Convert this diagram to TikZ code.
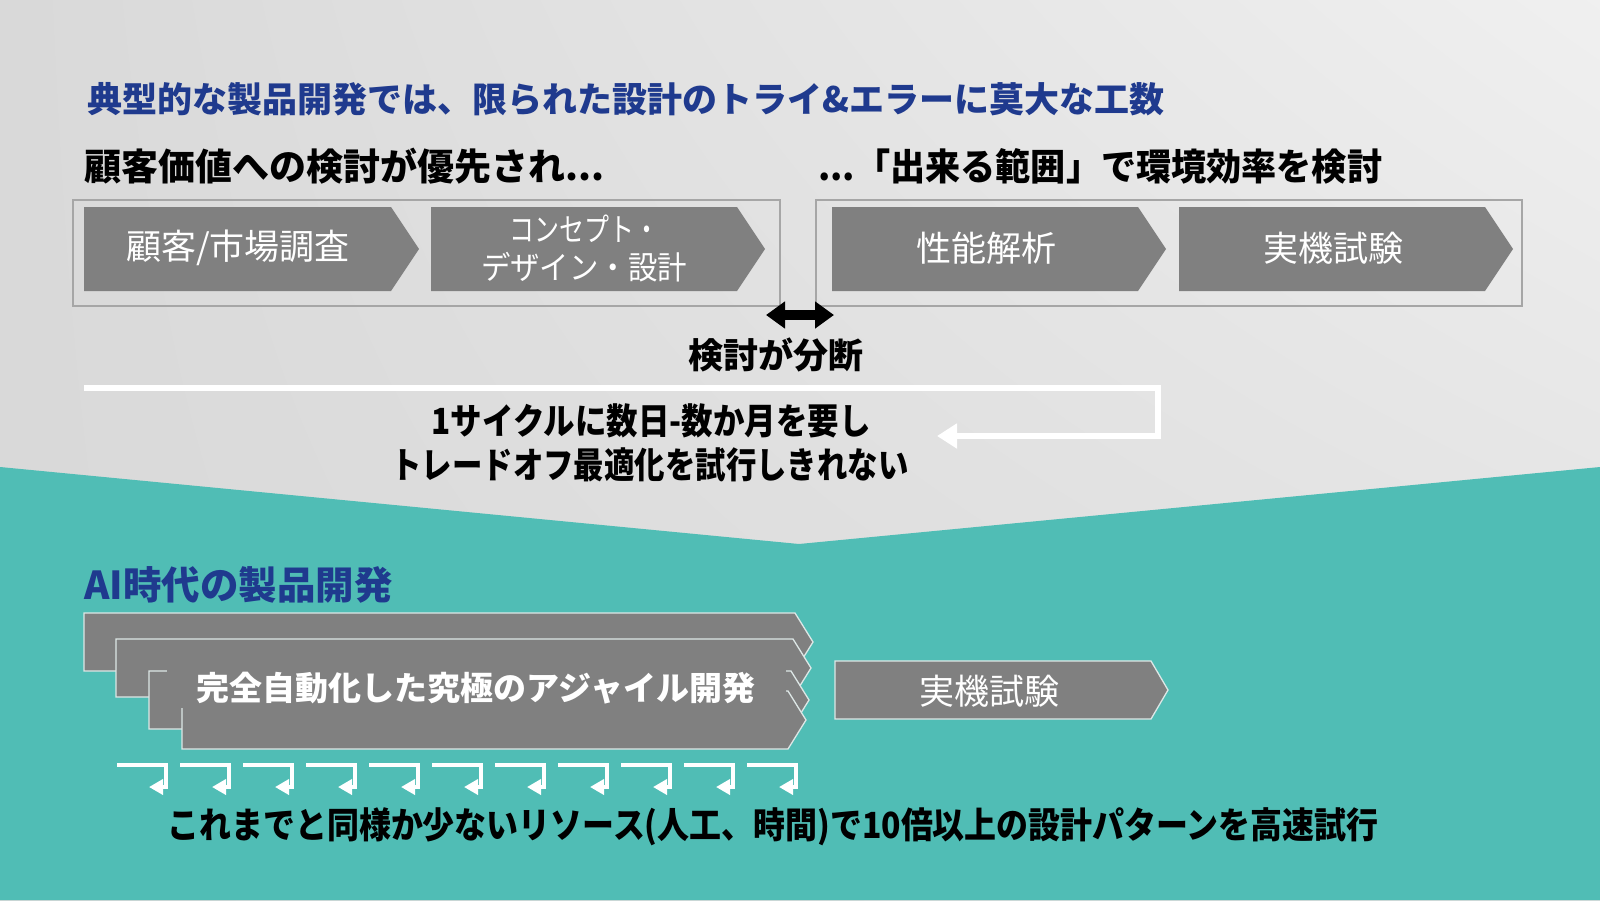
\documentclass[tikz,border=0pt]{standalone}
\usepackage{fontspec}
\setmainfont{Noto Sans CJK JP}
\usetikzlibrary{arrows.meta,shadings}

\definecolor{bgteal}{HTML}{50BDB5}
\definecolor{titleblue}{HTML}{1F3A8E}
\definecolor{chevgray}{HTML}{808080}
\definecolor{boxline}{HTML}{A6A6A6}
\definecolor{edgelight}{HTML}{DDE7E6}
\newcommand{\setfs}[1]{\fontsize{#1}{#1}\selectfont}

\begin{document}
\begin{tikzpicture}[x=1pt,y=-1pt,
    heading/.style={anchor=west,inner sep=0pt,font=\bfseries\setfs{37}},
    chevtext/.style={text=white,inner sep=0pt,font=\setfs{35},align=center},
    stackfill/.style={fill=chevgray,draw=edgelight,line width=1.3pt},
    bodytext/.style={inner sep=0pt,font=\bfseries\setfs{36}}]

    \useasboundingbox (0,0) rectangle (1600,900);

    % background
    \shade[upper left=gray!30,upper right=gray!12,lower left=gray!30,lower right=gray!26]
    (0,0) rectangle (1600,900);
    \fill[bgteal] (0,467) -- (799,544) -- (1600,467) -- (1600,900) -- (0,900) -- cycle;

    % headings
    \node (title) [heading,text=titleblue,font=\bfseries\setfs{35}] at (87,99)
    {典型的な製品開発では、限られた設計のトライ\&エラーに莫大な工数};
    \node (headleft) [heading] at (84,166) {顧客価値への検討が優先され...};
    \node (headright) [heading] at (818,166) {\resizebox{564pt}{\height}{...「出来る範囲」で環境効率を検討}};

    % frames round the two halves
    \node (leftbox) [draw=boxline,line width=2pt,minimum width=707pt,minimum height=106pt] at (426.5,253) {};
    \node (rightbox) [draw=boxline,line width=2pt,minimum width=706pt,minimum height=106pt] at (1169,253) {};

    % current process chevrons
    \fill[chevgray] (84,207) -- (391,207) -- (419,249) -- (391,291) -- (84,291) -- cycle;
    \fill[chevgray] (431,207) -- (737,207) -- (765,249) -- (737,291) -- (431,291) -- cycle;
    \fill[chevgray] (832,207) -- (1138,207) -- (1166,249) -- (1138,291) -- (832,291) -- cycle;
    \fill[chevgray] (1179,207) -- (1485,207) -- (1513,249) -- (1485,291) -- (1179,291) -- cycle;

    \node (survey) [chevtext] at (238,248) {顧客/市場調査};
    \node (concept) [chevtext,font=\setfs{32},text depth=0pt] at (584,247)
    {\resizebox{150pt}{\height}{コンセプト・}\\[6pt]\resizebox{206pt}{\height}{デザイン・設計}};
    \node (analysis) [chevtext] at (986,248) {性能解析};
    \node (testing) [chevtext] at (1333,248) {実機試験};

    % split between the halves
    \draw[black,line width=10pt,{Triangle[length=19pt,width=26pt]}-{Triangle[length=19pt,width=26pt]}]
    ([xshift=-15pt,yshift=-8pt]leftbox.south east) -- ([xshift=19pt,yshift=-8pt]rightbox.south west);
    \node (split) [bodytext,font=\bfseries\setfs{35}] at (776,355) {検討が分断};

    % one slow cycle
    \coordinate (loopstart) at (84,388);
    \coordinate (loopend) at (937,436);
    \draw[white,line width=6pt,-{Triangle[length=20pt,width=24pt]}]
    (loopstart) -- ++(1074,0) |- (loopend);

    \node (cycle1) [bodytext] at (651,421) {\resizebox{439pt}{\height}{1サイクルに数日-数か月を要し}};
    \node (cycle2) [bodytext] at (650,465) {\resizebox{517pt}{\height}{トレードオフ最適化を試行しきれない}};

    % AI era
    \node (aihead) [heading,text=titleblue,font=\bfseries\setfs{38.5}] at (84,585) {AI時代の製品開発};

    \draw[stackfill] (84,613) -- (795,613) -- (813,642) -- (795,671) -- (84,671) -- cycle;
    \draw[stackfill] (116,639) -- (793,639) -- (811,668) -- (793,697) -- (116,697) -- cycle;
    \draw[stackfill] (149,671) -- (791,671) -- (809,700) -- (791,729) -- (149,729) -- cycle;
    \draw[stackfill] (182,691) -- (788,691) -- (806,720) -- (788,749) -- (182,749) -- cycle;

    \node (agile) [fill=chevgray,inner sep=0pt,minimum width=619pt,minimum height=40pt,
    text=white,font=\bfseries\setfs{33}] at (476,688) {完全自動化した究極のアジャイル開発};

    \draw[stackfill] (835,661) -- (1151,661) -- (1168,690) -- (1151,719) -- (835,719) -- cycle;
    \node (testing2) [chevtext] at (989,691) {実機試験};

    % many fast cycles
    \foreach \i in {0,...,10}
    \draw[white,line width=4pt,-{Triangle[length=14pt,width=15pt]}]
    ({117+63*\i},765) -- ++(49,0) -- ++(0,22) -- ++(-17,0);

    \node (result) [bodytext] at (773,827)
    {\resizebox{1211pt}{\height}{これまでと同様か少ないリソース(人工、時間)で10倍以上の設計パターンを高速試行}};
\end{tikzpicture}
\end{document}
